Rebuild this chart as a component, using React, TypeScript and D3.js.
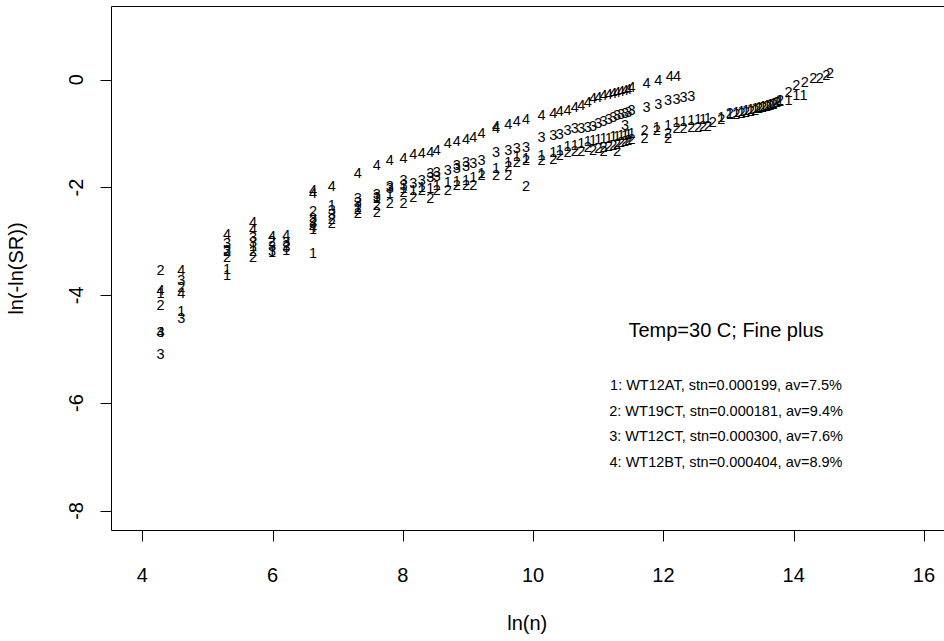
import React from "react";
import * as d3 from "d3";

const W = 944;
const H = 641;
const FONT = "'Liberation Sans', Arial, Helvetica, sans-serif";

const xTicks = [4, 6, 8, 10, 12, 14, 16];
const yTicks = [0, -2, -4, -6, -8];
const xTitle = "ln(n)";
const yTitle = "ln(-ln(SR))";

const series1: [number, number][] = [
  [4.28, -3.96], [4.6, -4.29], [5.3, -3.5], [5.3, -3.62], [5.7, -3.08], [5.99, -3.2],
  [6.21, -3.15], [6.62, -2.77], [6.62, -3.22], [6.91, -2.33], [7.31, -2.36], [7.6, -2.2],
  [7.8, -2.1], [8.01, -2.0], [8.16, -2.05], [8.29, -1.98], [8.42, -2.0], [8.52, -1.95],
  [8.69, -1.9], [8.83, -1.88], [8.97, -1.85], [9.08, -1.8], [9.21, -1.72], [9.43, -1.64],
  [9.62, -1.52], [9.75, -1.42], [9.89, -1.45], [10.13, -1.4], [10.31, -1.34], [10.41, -1.3],
  [10.53, -1.22], [10.64, -1.2], [10.74, -1.17], [10.84, -1.14],
  [10.92, -1.12], [11.0, -1.1], [11.08, -1.08], [11.16, -1.07], [11.23, -1.05], [11.29, -1.04],
  [11.35, -1.03], [11.41, -1.02], [11.46, -1.0], [11.51, -0.99],
  [11.9, -0.88], [12.07, -0.84], [12.2, -0.79], [12.31, -0.77], [12.43, -0.75], [12.53, -0.73],
  [12.61, -0.72], [12.68, -0.7], [12.89, -0.68], [13.02, -0.64],
  [13.12, -0.6], [13.2, -0.58], [13.27, -0.56], [13.34, -0.54], [13.41, -0.52], [13.47, -0.5],
  [13.53, -0.48], [13.59, -0.47], [13.64, -0.45], [13.69, -0.43], [13.74, -0.41], [13.79, -0.39],
  [13.92, -0.38], [14.04, -0.28], [14.15, -0.28],
];

const series2: [number, number][] = [
  [4.28, -3.53], [4.28, -4.17], [4.6, -3.84], [5.3, -3.18], [5.3, -3.28], [5.7, -3.18],
  [5.7, -3.29], [5.99, -2.98], [6.21, -3.06], [6.62, -2.44], [6.62, -2.6], [6.91, -2.58],
  [6.91, -2.65], [7.31, -2.4], [7.31, -2.47], [7.6, -2.33], [7.6, -2.45], [7.8, -2.29],
  [8.01, -2.08], [8.01, -2.29], [8.16, -2.17], [8.29, -2.05], [8.42, -2.19], [8.52, -2.05],
  [8.69, -2.05], [8.83, -1.95], [8.97, -1.95], [9.08, -1.95], [9.21, -1.77], [9.43, -1.77],
  [9.62, -1.77], [9.62, -1.6], [9.75, -1.52], [9.89, -1.49], [9.89, -1.96], [10.13, -1.49],
  [10.31, -1.46], [10.41, -1.39], [10.53, -1.33], [10.64, -1.31], [10.74, -1.31], [10.84, -1.25],
  [10.92, -1.3], [11.0, -1.27], [11.08, -1.25], [11.16, -1.22], [11.23, -1.2], [11.29, -1.18],
  [11.35, -1.16], [11.41, -1.14], [11.46, -1.12], [11.51, -1.1], [11.08, -1.31], [11.29, -1.31],
  [11.71, -0.93], [11.71, -1.08], [11.9, -0.93], [12.07, -0.99], [12.07, -1.08], [12.2, -0.9],
  [12.31, -0.89], [12.43, -0.88], [12.53, -0.87], [12.61, -0.86], [12.68, -0.85], [12.76, -0.78],
  [12.89, -0.72], [13.02, -0.62],
  [13.12, -0.64], [13.2, -0.62], [13.27, -0.6], [13.34, -0.57], [13.41, -0.55], [13.47, -0.53],
  [13.53, -0.5], [13.59, -0.48], [13.64, -0.46], [13.69, -0.44], [13.74, -0.41], [13.79, -0.38],
  [13.92, -0.22], [14.04, -0.1], [14.17, -0.04], [14.3, 0.03], [14.4, 0.04], [14.5, 0.09],
  [14.56, 0.12],
];

const series3: [number, number][] = [
  [4.28, -4.68], [4.28, -5.08], [4.6, -3.72], [4.6, -4.42], [5.3, -3.03], [5.3, -3.16],
  [5.7, -2.92], [5.7, -3.0], [5.99, -3.08], [5.99, -3.17], [6.21, -3.0], [6.21, -3.1],
  [6.62, -2.57], [6.62, -2.66], [6.91, -2.41], [6.91, -2.48], [7.31, -2.19], [7.31, -2.26],
  [7.6, -2.11], [7.6, -2.18], [7.8, -1.96], [7.8, -2.01], [8.01, -1.86], [8.01, -1.95],
  [8.16, -1.92], [8.29, -1.86], [8.42, -1.73], [8.42, -1.8], [8.52, -1.71], [8.52, -1.78],
  [8.69, -1.68], [8.83, -1.58], [8.83, -1.63], [8.97, -1.52], [8.97, -1.6], [9.08, -1.55],
  [9.21, -1.49], [9.43, -1.34], [9.62, -1.3], [9.75, -1.27], [9.89, -1.24], [10.13, -1.06],
  [10.31, -1.03], [10.41, -1.0], [10.53, -0.93], [10.64, -0.9], [10.74, -0.9], [10.84, -0.87],
  [10.92, -0.85], [11.0, -0.8], [11.08, -0.76], [11.16, -0.72], [11.23, -0.69], [11.29, -0.66],
  [11.35, -0.63], [11.41, -0.61], [11.46, -0.59], [11.51, -0.56], [11.41, -0.84],
  [11.74, -0.5], [11.92, -0.45], [12.07, -0.38], [12.2, -0.35], [12.31, -0.32], [12.43, -0.3],
];

const series4: [number, number][] = [
  [4.28, -3.89], [4.28, -4.68], [4.6, -3.52], [4.6, -3.95], [5.3, -2.86], [5.7, -2.64],
  [5.7, -2.77], [5.99, -2.89], [6.21, -2.88], [6.62, -2.05], [6.62, -2.1], [6.62, -2.73],
  [6.91, -1.96], [7.31, -1.72], [7.6, -1.58], [7.8, -1.49], [8.01, -1.45], [8.16, -1.38],
  [8.29, -1.36], [8.42, -1.34], [8.52, -1.3], [8.69, -1.17], [8.83, -1.13], [8.97, -1.1],
  [9.08, -1.06], [9.21, -0.98], [9.43, -0.86], [9.43, -0.9], [9.62, -0.81], [9.75, -0.76],
  [9.89, -0.73], [10.13, -0.65], [10.31, -0.62], [10.41, -0.58], [10.53, -0.56], [10.64, -0.51],
  [10.74, -0.47], [10.84, -0.41],
  [10.92, -0.34], [11.0, -0.31], [11.08, -0.28], [11.16, -0.26], [11.23, -0.24], [11.29, -0.22],
  [11.35, -0.2], [11.41, -0.18], [11.46, -0.16], [11.51, -0.14],
  [11.74, -0.06], [11.92, -0.01], [12.1, 0.07], [12.21, 0.07],
];

const seriesList = [series1, series2, series3, series4];
const seriesLabels = ["1", "2", "3", "4"];

const legendTitle = "Temp=30 C; Fine plus";
const legendLines = [
  "1: WT12AT, stn=0.000199, av=7.5%",
  "2: WT19CT, stn=0.000181, av=9.4%",
  "3: WT12CT, stn=0.000300, av=7.6%",
  "4: WT12BT, stn=0.000404, av=8.9%",
];

export default function App() {
  const x = d3.scaleLinear().domain([3.515, 16.4]).range([110.7, 950]);
  const y = d3.scaleLinear().domain([1.367, -8.36]).range([6, 530.3]);

  const left = Math.round(x(3.515)) + 0.5;
  const top = Math.round(y(1.367)) + 0.5;
  const bottom = Math.round(y(-8.36)) + 0.5;
  const right = x(16.4);
  const tickLen = 11;

  return (
    <svg
      width={W}
      height={H}
      viewBox={`0 0 ${W} ${H}`}
      style={{ position: "absolute", left: 0, top: 0, background: "#fff" }}
      fontFamily={FONT}
    >
      <rect x={0} y={0} width={W} height={H} fill="#fff" />
      {/* box */}
      <path
        d={`M${right},${top}H${left}V${bottom}H${right}`}
        fill="none"
        stroke="#000"
        strokeWidth={1}
      />
      {/* x axis */}
      <line x1={Math.round(x(4)) + 0.5} x2={Math.round(x(16)) + 0.5} y1={bottom} y2={bottom} stroke="#000" />
      {xTicks.map((t) => (
        <g key={`xt${t}`}>
          <line
            x1={Math.round(x(t)) + 0.5}
            x2={Math.round(x(t)) + 0.5}
            y1={bottom}
            y2={bottom + tickLen}
            stroke="#000"
          />
          <text x={x(t)} y={582} fontSize={20} textAnchor="middle" fill="#000">
            {t}
          </text>
        </g>
      ))}
      {/* y axis */}
      <line x1={left} x2={left} y1={Math.round(y(0)) + 0.5} y2={Math.round(y(-8)) + 0.5} stroke="#000" />
      {yTicks.map((t) => (
        <g key={`yt${t}`}>
          <line
            x1={left - tickLen}
            x2={left}
            y1={Math.round(y(t)) + 0.5}
            y2={Math.round(y(t)) + 0.5}
            stroke="#000"
          />
          <text
            transform={`translate(83,${y(t)}) rotate(-90)`}
            fontSize={20}
            textAnchor="middle"
            fill="#000"
          >
            {t}
          </text>
        </g>
      ))}
      {/* axis titles */}
      <text x={(left + 943) / 2} y={630} fontSize={20} textAnchor="middle" fill="#000">
        {xTitle}
      </text>
      <text
        transform={`translate(23,${(top + bottom) / 2}) rotate(-90)`}
        fontSize={20}
        textAnchor="middle"
        fill="#000"
      >
        {yTitle}
      </text>
      {/* points as labels */}
      {seriesList.map((s, i) => (
        <g key={`s${i}`}>
          {s.map(([a, b], j) => (
            <text
              key={j}
              x={x(a)}
              y={y(b)}
              dy="0.36em"
              fontSize={14.5}
              textAnchor="middle"
              fill="#000"
            >
              {seriesLabels[i]}
            </text>
          ))}
        </g>
      ))}
      {/* legend */}
      <text x={726} y={337} fontSize={20} textAnchor="middle" fill="#000">
        {legendTitle}
      </text>
      {legendLines.map((l, i) => (
        <text key={l} x={726} y={390 + i * 25.5} fontSize={14.5} textAnchor="middle" fill="#000">
          {l}
        </text>
      ))}
    </svg>
  );
}
